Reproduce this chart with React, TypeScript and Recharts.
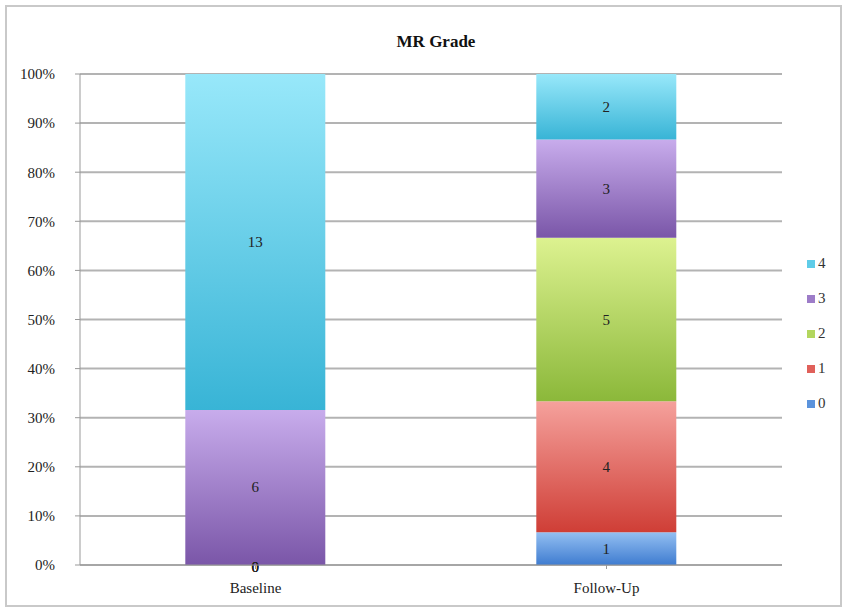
import { Bar, BarChart, CartesianGrid, Legend, Rectangle, XAxis, YAxis } from "recharts";

const CATEGORIES = ["Baseline", "Follow-Up"];
const GRADE_0 = [0, 1];
const GRADE_1 = [0, 4];
const GRADE_2 = [0, 5];
const GRADE_3 = [6, 3];
const GRADE_4 = [13, 2];
const Y_TICKS = [0, 0.1, 0.2, 0.3, 0.4, 0.5, 0.6, 0.7, 0.8, 0.9, 1];

const SERIES = [
  { key: "g0", name: "0", values: GRADE_0, top: "#93BFF2", bottom: "#3F7CD0", swatch: "#5B93DC" },
  { key: "g1", name: "1", values: GRADE_1, top: "#F5A19C", bottom: "#CF3E36", swatch: "#E0605A" },
  { key: "g2", name: "2", values: GRADE_2, top: "#DDF290", bottom: "#8BB83A", swatch: "#B3D65E" },
  { key: "g3", name: "3", values: GRADE_3, top: "#C8ACEC", bottom: "#7A56A8", swatch: "#9D7CC8" },
  { key: "g4", name: "4", values: GRADE_4, top: "#98E8FA", bottom: "#38B4D6", swatch: "#5FCCE8" },
];

const data = CATEGORIES.map((c, i) => {
  const row: Record<string, string | number> = { name: c };
  SERIES.forEach((s) => (row[s.key] = s.values[i]));
  return row;
});

const FONT = '"Liberation Serif", "Times New Roman", "Nimbus Roman", FreeSerif, "DejaVu Serif", serif';

function GradeLegend() {
  return (
    <div style={{ fontFamily: FONT, fontSize: 15, color: "#333" }}>
      {[...SERIES].reverse().map((s) => (
        <div key={s.key} style={{ display: "flex", alignItems: "center", height: 35 }}>
          <span style={{ width: 8, height: 8, background: s.swatch, marginRight: 3, display: "inline-block" }} />
          {s.name}
        </div>
      ))}
    </div>
  );
}

function Num({ x, y, v }: { x: number; y: number; v: number }) {
  return (
    <text x={x} y={y} textAnchor="middle" dominantBaseline="central" style={{ fontFamily: FONT }} fontSize={15} fill="#222">
      {v}
    </text>
  );
}

// segment rect + its count. Empty segments below it get their "0" drawn here too,
// so the text is not hidden under this segment's fill.
function makeSegment(idx: number) {
  const key = SERIES[idx].key;
  return (props: any) => {
    const { x, y, width, height, fill, payload } = props;
    if (!payload) return <g />;
    const v = Number(payload[key]);
    const cx = x + width / 2;
    if (v === 0) {
      const above = SERIES.slice(idx + 1).some((s) => Number(payload[s.key]) > 0);
      return <g>{!above && <Num x={cx} y={y + height / 2} v={0} />}</g>;
    }
    const zerosBelow: number[] = [];
    for (let j = idx - 1; j >= 0 && Number(payload[SERIES[j].key]) === 0; j--) zerosBelow.push(j);
    return (
      <g>
        <Rectangle x={x} y={y} width={width} height={height} fill={fill} />
        <Num x={cx} y={y + height / 2} v={v} />
        {zerosBelow.map((j) => (
          <Num key={j} x={cx} y={y + height + 2} v={0} />
        ))}
      </g>
    );
  };
}

export default function App() {
  return (
    <div style={{ position: "relative", width: 847, height: 610, background: "#fff" }}>
      <style>{`body{margin:0}`}</style>
      <div
        style={{
          position: "absolute",
          left: 5,
          top: 5,
          width: 833,
          height: 598,
          border: "2px solid #c9c9c9",
        }}
      />
      <div
        style={{
          position: "absolute",
          top: 32,
          left: 0,
          width: 872,
          textAlign: "center",
          fontFamily: FONT,
          fontWeight: "bold",
          fontSize: 17,
          color: "#111",
        }}
      >
        MR Grade
      </div>
      <BarChart
        width={847}
        height={610}
        data={data}
        stackOffset="expand"
        barCategoryGap="30%"
        margin={{ top: 74, right: 35, bottom: 15, left: 0 }}
        style={{ position: "absolute", left: 0, top: 0 }}
      >
        <defs>
          {SERIES.map((s) => (
            <linearGradient key={s.key} id={`grad-${s.key}`} x1="0" y1="0" x2="0" y2="1">
              <stop offset="0%" stopColor={s.top} />
              <stop offset="100%" stopColor={s.bottom} />
            </linearGradient>
          ))}
        </defs>
        <CartesianGrid vertical={false} stroke="#b3b3b3" strokeWidth={2} />
        <XAxis
          dataKey="name"
          stroke="#999"
          tickLine={{ stroke: "#999" }}
          tickSize={4}
          tickMargin={13}
          height={30}
          tick={{ style: { fontFamily: FONT }, fontSize: 15, fill: "#222" }}
        />
        <YAxis
          width={80}
          domain={[0, 1]}
          ticks={Y_TICKS}
          stroke="#999"
          tickSize={5}
          tickMargin={20}
          tickFormatter={(v: number) => `${Math.round(v * 100)}%`}
          tick={{ style: { fontFamily: FONT }, fontSize: 15, fill: "#222" }}
        />
        <Legend
          layout="vertical"
          align="right"
          verticalAlign="middle"
          content={<GradeLegend />}
          wrapperStyle={{ width: 30, right: 10, top: 246 }}
        />
        {SERIES.map((s, i) => (
          <Bar
            key={s.key}
            dataKey={s.key}
            name={s.name}
            stackId="a"
            fill={`url(#grad-${s.key})`}
            shape={makeSegment(i)}
            isAnimationActive={false}
          />
        ))}
      </BarChart>
    </div>
  );
}
